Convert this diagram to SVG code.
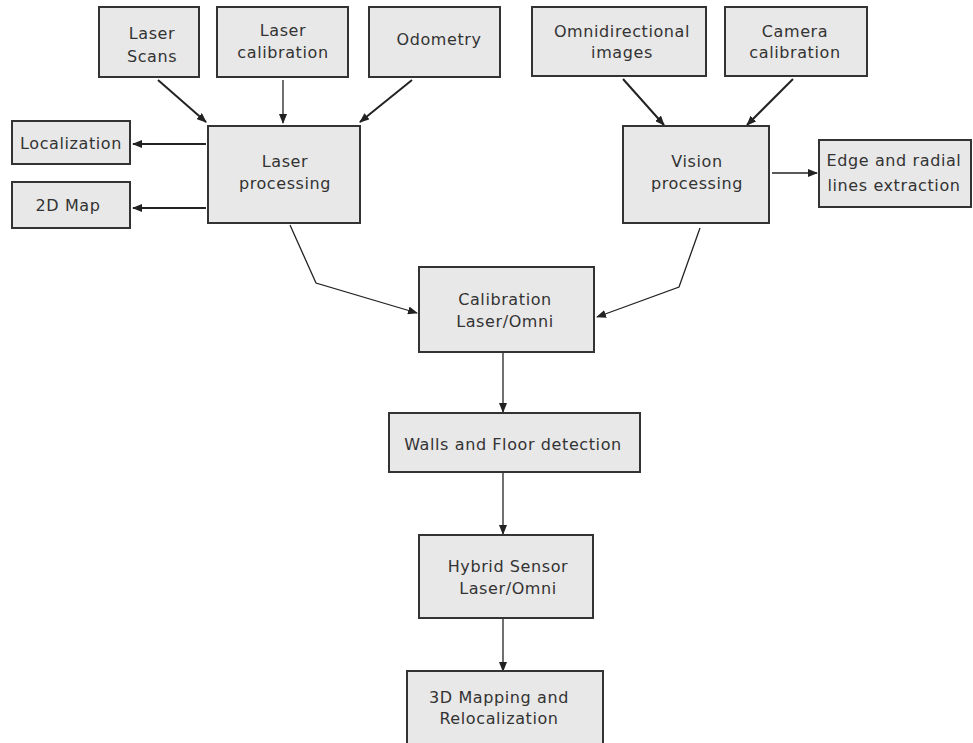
<svg xmlns="http://www.w3.org/2000/svg" width="973" height="743" viewBox="0 0 973 743">
<style>
.box{fill:#e8e8e8;stroke:#333;stroke-width:2}
text{font-family:"DejaVu Sans",sans-serif;font-size:16px;letter-spacing:0.6px;fill:#333;text-anchor:middle}
.c{fill:none;stroke:#222;stroke-width:2}
.t{fill:none;stroke:#222;stroke-width:1.3}
</style>
<defs>
<marker id="ah" markerWidth="10" markerHeight="8" refX="9" refY="4" orient="auto" markerUnits="userSpaceOnUse">
<path d="M0,0 L10,4 L0,8 Z" fill="#222"/>
</marker>
</defs>
<rect width="973" height="743" fill="#fff"/>
<g id="connectors">
<line class="c" x1="158" y1="80" x2="206" y2="122" marker-end="url(#ah)"/>
<line class="t" x1="283" y1="80" x2="283" y2="123" marker-end="url(#ah)"/>
<line class="c" x1="412" y1="80" x2="360" y2="122" marker-end="url(#ah)"/>
<line class="c" x1="206" y1="144" x2="133" y2="144" marker-end="url(#ah)"/>
<line class="c" x1="206" y1="208" x2="133" y2="208" marker-end="url(#ah)"/>
<line class="c" x1="623" y1="79" x2="664" y2="125" marker-end="url(#ah)"/>
<line class="c" x1="793" y1="79" x2="747" y2="125" marker-end="url(#ah)"/>
<line class="t" x1="772" y1="173" x2="817" y2="173" marker-end="url(#ah)"/>
<polyline class="t" points="290,225 316,283 417,313" marker-end="url(#ah)"/>
<polyline class="t" points="700,228 679,287 597,317" marker-end="url(#ah)"/>
<line class="t" x1="503" y1="352" x2="503" y2="412" marker-end="url(#ah)"/>
<line class="t" x1="503" y1="473" x2="503" y2="534" marker-end="url(#ah)"/>
<line class="t" x1="503" y1="619" x2="503" y2="671" marker-end="url(#ah)"/>
</g>
<g id="laser-scans"><rect class="box" x="99" y="7" width="100" height="70"/><text x="152" y="39">Laser</text><text x="152" y="62">Scans</text></g>
<g id="laser-calibration"><rect class="box" x="217" y="7" width="131" height="70"/><text x="283" y="36">Laser</text><text x="283" y="58">calibration</text></g>
<g id="odometry"><rect class="box" x="369" y="7" width="131" height="70"/><text x="439" y="45">Odometry</text></g>
<g id="omni-images"><rect class="box" x="532" y="7" width="174" height="69"/><text x="622" y="37">Omnidirectional</text><text x="622" y="58">images</text></g>
<g id="camera-calibration"><rect class="box" x="725" y="7" width="142" height="69"/><text x="795" y="37">Camera</text><text x="795" y="58">calibration</text></g>
<g id="localization"><rect class="box" x="12" y="121" width="118" height="43"/><text x="71" y="149">Localization</text></g>
<g id="map2d"><rect class="box" x="12" y="182" width="118" height="46"/><text x="68" y="211">2D Map</text></g>
<g id="laser-processing"><rect class="box" x="208" y="126" width="152" height="97"/><text x="285" y="167">Laser</text><text x="285" y="189">processing</text></g>
<g id="vision-processing"><rect class="box" x="623" y="126" width="146" height="97"/><text x="697" y="167">Vision</text><text x="697" y="189">processing</text></g>
<g id="edge-lines"><rect class="box" x="819" y="140" width="152" height="67"/><text x="894" y="166">Edge and radial</text><text x="894" y="191">lines extraction</text></g>
<g id="calibration-laser-omni"><rect class="box" x="419" y="267" width="175" height="85"/><text x="505" y="305">Calibration</text><text x="505" y="327">Laser/Omni</text></g>
<g id="walls-floor"><rect class="box" x="389" y="413" width="251" height="59"/><text x="513" y="450">Walls and Floor detection</text></g>
<g id="hybrid-sensor"><rect class="box" x="419" y="535" width="174" height="83"/><text x="508" y="572">Hybrid Sensor</text><text x="508" y="594">Laser/Omni</text></g>
<g id="mapping-3d"><rect class="box" x="407" y="671" width="196" height="80"/><text x="499" y="703">3D Mapping and</text><text x="499" y="724">Relocalization</text></g>
</svg>
